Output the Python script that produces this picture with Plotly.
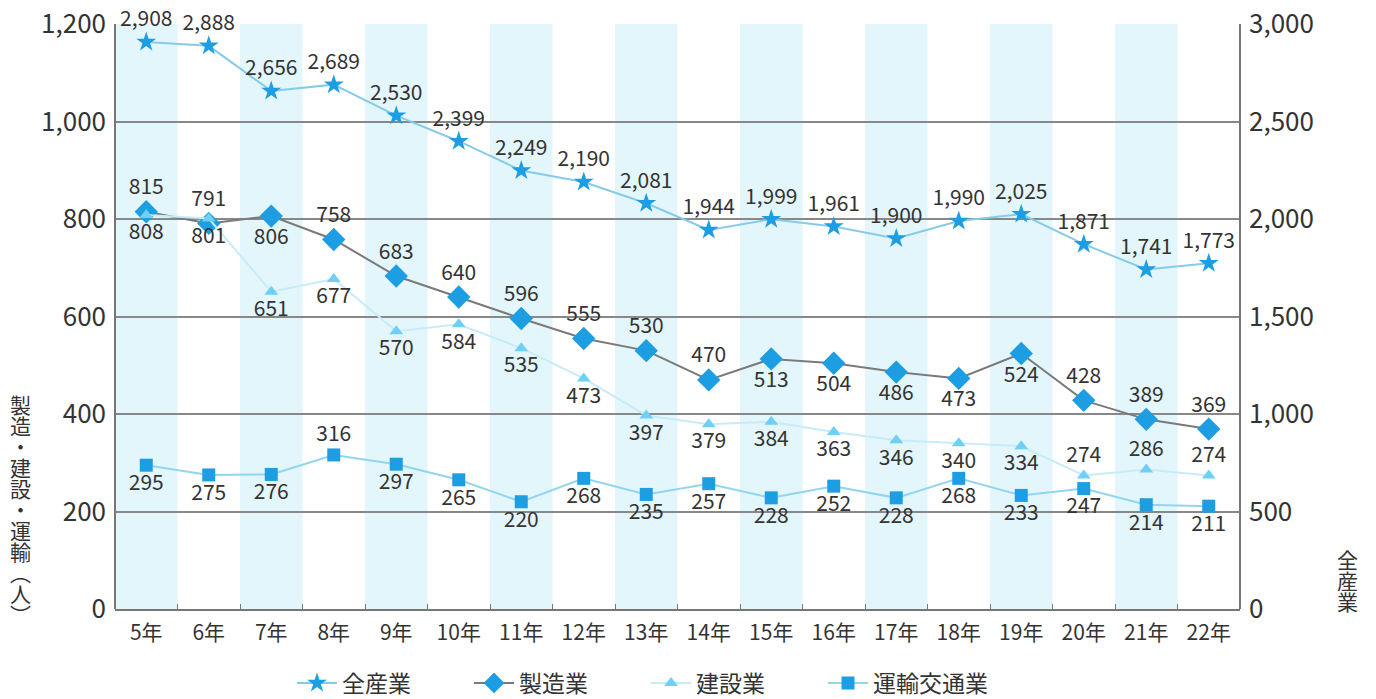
import plotly.graph_objects as go

years = ["5年", "6年", "7年", "8年", "9年", "10年", "11年", "12年", "13年",
         "14年", "15年", "16年", "17年", "18年", "19年", "20年", "21年", "22年"]

all_industry = [2908, 2888, 2656, 2689, 2530, 2399, 2249, 2190, 2081,
                1944, 1999, 1961, 1900, 1990, 2025, 1871, 1741, 1773]
manufacturing = [815, 791, 806, 758, 683, 640, 596, 555, 530,
                 470, 513, 504, 486, 473, 524, 428, 389, 369]
construction = [808, 801, 651, 677, 570, 584, 535, 473, 397,
                379, 384, 363, 346, 340, 334, 274, 286, 274]
transport = [295, 275, 276, 316, 297, 265, 220, 268, 235,
             257, 228, 252, 228, 268, 233, 247, 214, 211]

left_title = "製造・建設・運輸︵人︶"
right_title = "全産業"

# label placement per point
manu_pos = ["top center", "top center", "bottom center", "top center", "top center",
            "top center", "top center", "top center", "top center", "top center",
            "bottom center", "bottom center", "bottom center", "bottom center",
            "bottom center", "top center", "top center", "top center"]
cons_pos = ["bottom center"] * 15 + ["top center"] * 3
trans_pos = ["bottom center"] * 18
trans_pos[3] = "top center"

FONT = "Noto Sans CJK JP"
TXT = "#333333"
LABEL_FONT = dict(family=FONT, size=21, color=TXT)

# plot area geometry (pixels)
W, H = 1376, 699
ML, MR, MT, MB = 115, 136, 24, 90
PLOT_H = H - MT - MB
PLOT_W = W - ML - MR


def py(pix):
    """pixel row -> paper y"""
    return (H - MB - pix) / PLOT_H


def px(pix):
    """pixel column -> paper x"""
    return (pix - ML) / PLOT_W


fig = go.Figure()

fig.add_trace(go.Scatter(
    x=years, y=all_industry, name="全産業", yaxis="y2",
    mode="lines+markers+text", cliponaxis=False,
    line=dict(color="#86cbe8", width=2),
    marker=dict(symbol="star", size=15, color="#1d9de2"),
    text=[f"{v:,}" for v in all_industry], textposition="top center",
    textfont=LABEL_FONT,
))
fig.add_trace(go.Scatter(
    x=years, y=manufacturing, name="製造業",
    mode="lines+markers+text", cliponaxis=False,
    line=dict(color="#7a7a7a", width=2),
    marker=dict(symbol="diamond", size=18, color="#1d9de2"),
    text=[str(v) for v in manufacturing], textposition=manu_pos,
    textfont=LABEL_FONT,
))
fig.add_trace(go.Scatter(
    x=years, y=construction, name="建設業",
    mode="lines+markers+text", cliponaxis=False,
    line=dict(color="#c8ecf7", width=2),
    marker=dict(symbol="triangle-up", size=12, color="#6fcff4"),
    text=[str(v) for v in construction], textposition=cons_pos,
    textfont=LABEL_FONT,
))
fig.add_trace(go.Scatter(
    x=years, y=transport, name="運輸交通業",
    mode="lines+markers+text", cliponaxis=False,
    line=dict(color="#92d5ef", width=2),
    marker=dict(symbol="square", size=13, color="#1d9de2"),
    text=[str(v) for v in transport], textposition=trans_pos,
    textfont=LABEL_FONT,
))

# alternating column shading
shapes = []
for i in range(0, len(years), 2):
    shapes.append(dict(type="rect", xref="x", yref="paper",
                       x0=i - 0.5, x1=i + 0.5, y0=0, y1=1,
                       fillcolor="#e3f6fc", line=dict(width=0), layer="below"))
# frame sides
shapes.append(dict(type="line", xref="paper", yref="paper", x0=0, x1=0, y0=0, y1=1,
                   line=dict(color="#777777", width=2)))
shapes.append(dict(type="line", xref="paper", yref="paper", x0=1, x1=1, y0=0, y1=1,
                   line=dict(color="#777777", width=2)))

# vertical axis titles, one character per annotation, stacked top to bottom
left_rows = [404, 425, 446, 467, 488, 509, 530, 551, 572, 593, 614]
annotations = []
for ch, row in zip(left_title, left_rows):
    annotations.append(dict(text=ch, xref="paper", yref="paper",
                            x=px(20), y=py(row),
                            xanchor="center", yanchor="middle", showarrow=False,
                            borderpad=0,
                            font=dict(family=FONT, size=21, color=TXT)))
right_rows = [559, 580, 601]
for ch, row in zip(right_title, right_rows):
    annotations.append(dict(text=ch, xref="paper", yref="paper",
                            x=px(1347), y=py(row),
                            xanchor="center", yanchor="middle", showarrow=False,
                            borderpad=0,
                            font=dict(family=FONT, size=21, color=TXT)))

fig.update_layout(
    width=W, height=H,
    margin=dict(l=ML, r=MR, t=MT, b=MB, autoexpand=False),
    paper_bgcolor="white", plot_bgcolor="white",
    font=dict(family=FONT, color=TXT),
    shapes=shapes,
    annotations=annotations,
    showlegend=True,
    legend=dict(orientation="h", x=px(292), xanchor="left",
                y=py(683), yanchor="middle",
                font=dict(family=FONT, size=23, color=TXT),
                itemwidth=40, tracegroupgap=0,
                entrywidth=122, entrywidthmode="pixels"),
    xaxis=dict(
        type="category", range=[-0.5, len(years) - 0.5],
        showgrid=False, showline=True, linecolor="#777777", linewidth=2,
        ticks="inside", tickson="boundaries", ticklen=5, tickcolor="#777777",
        tickfont=dict(family=FONT, size=21, color=TXT), ticklabelstandoff=4,
    ),
    yaxis=dict(
        range=[0, 1200], dtick=200, tickformat=",",
        showgrid=True, gridcolor="#888888", gridwidth=1.5,
        zeroline=False, showline=False,
        tickfont=dict(family=FONT, size=26, color=TXT),
        ticks="", ticklabelstandoff=8,
    ),
    yaxis2=dict(
        range=[0, 3000], dtick=500, tickformat=",",
        overlaying="y", side="right", showgrid=False, zeroline=False,
        tickfont=dict(family=FONT, size=26, color=TXT),
        ticks="", ticklabelstandoff=8,
    ),
)

fig.write_html("out.html")
